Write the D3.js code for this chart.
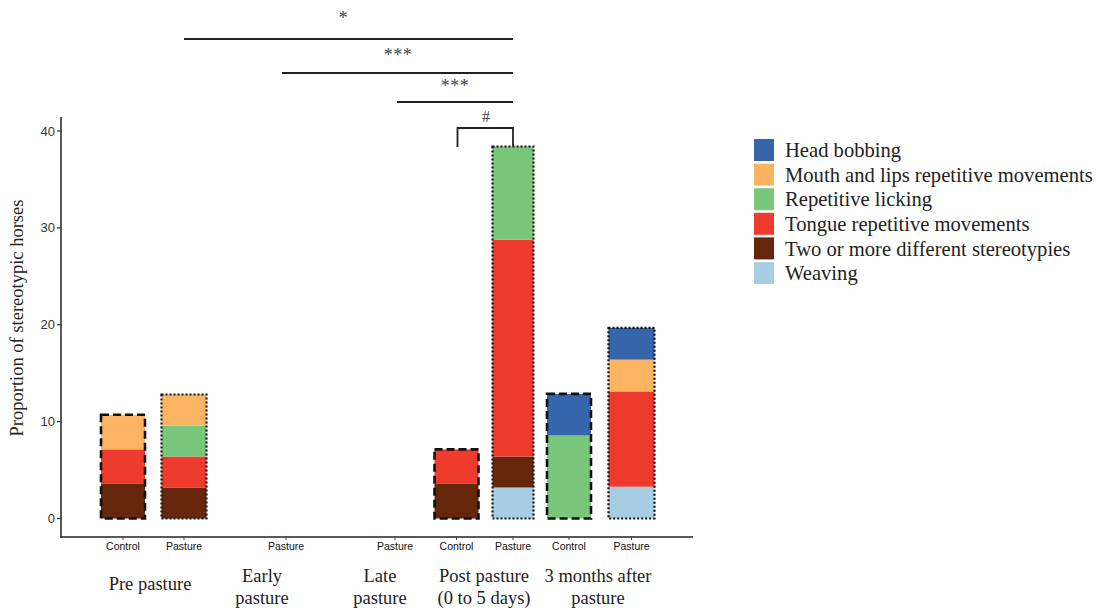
<!DOCTYPE html>
<html>
<head>
<meta charset="utf-8">
<script src="https://cdn.jsdelivr.net/npm/d3@7"></script>
<style>
  html, body { margin: 0; padding: 0; background: #fff; }
  svg { display: block; }
</style>
</head>
<body>
<svg id="chart" width="1101" height="610"></svg>
<script>
// ---------- DATA ----------
const barKeys = ["pre_c", "pre_p", "early_p", "late_p", "post_c", "post_p", "m3_c", "m3_p"];
const tickLabels = ["Control", "Pasture", "Pasture", "Pasture", "Control", "Pasture", "Control", "Pasture"];
const barType = ["control", "pasture", "pasture", "pasture", "control", "pasture", "control", "pasture"];
const groupLabels = [["Pre pasture"], ["Early", "pasture"], ["Late", "pasture"], ["Post pasture", "(0 to 5 days)"], ["3 months after", "pasture"]];

const seriesNames = ["Head bobbing", "Mouth and lips repetitive movements", "Repetitive licking",
  "Tongue repetitive movements", "Two or more different stereotypies", "Weaving"];
// values per bar (same order as barKeys)
const headBobbing = [0, 0, 0, 0, 0, 0, 4.29, 3.28];
const mouthLips   = [3.57, 3.2, 0, 0, 0, 0, 0, 3.28];
const licking     = [0, 3.2, 0, 0, 0, 9.6, 8.57, 0];
const tongue      = [3.57, 3.2, 0, 0, 3.57, 22.4, 0, 9.84];
const twoOrMore   = [3.57, 3.2, 0, 0, 3.57, 3.2, 0, 0];
const weaving     = [0, 0, 0, 0, 0, 3.2, 0, 3.28];
const yTicks = [0, 10, 20, 30, 40];

const sigLabels = ["*", "***", "***", "#"];

// ---------- LAYOUT ----------
const svg = d3.select("#chart");
const colors = ["#3566ab", "#fbb462", "#79c77b", "#ee3b2d", "#66260b", "#a7cde3"];
const seriesData = [headBobbing, mouthLips, licking, tongue, twoOrMore, weaving];

const y = d3.scaleLinear().domain([0, 40]).range([518.5, 131]);
const x = d3.scaleOrdinal().domain(barKeys).range([123, 184, 286, 395, 456.5, 513, 569, 631.5]);
const barW = d3.scaleOrdinal().domain(barKeys).range([44, 45, 44, 44, 44, 41, 44, 46]);

// stacked data: bottom = Weaving, top = Head bobbing
const rows = barKeys.map((k, i) => {
  const r = { key: k };
  seriesNames.forEach((s, j) => r[s] = seriesData[j][i]);
  return r;
});
const stackOrder = seriesNames.slice().reverse();
const stack = d3.stack().keys(stackOrder)(rows);
const color = d3.scaleOrdinal().domain(seriesNames).range(colors);

const g = svg.append("g");
stack.forEach(layer => {
  g.selectAll(null).data(layer.filter(d => d[1] - d[0] > 0)).enter().append("rect")
    .attr("x", d => x(d.data.key) - barW(d.data.key) / 2)
    .attr("width", d => barW(d.data.key))
    .attr("y", d => y(d[1]))
    .attr("height", d => y(d[0]) - y(d[1]))
    .attr("fill", color(layer.key));
});

// outlines
const totals = rows.map(r => d3.sum(seriesNames, s => r[s]));
barKeys.forEach((k, i) => {
  if (totals[i] <= 0) return;
  const ctl = barType[i] === "control";
  g.append("rect")
    .attr("x", x(k) - barW(k) / 2)
    .attr("width", barW(k))
    .attr("y", y(totals[i]))
    .attr("height", y(0) - y(totals[i]))
    .attr("fill", "none")
    .attr("stroke", "#111")
    .attr("stroke-width", ctl ? 2.6 : 2.2)
    .attr("stroke-dasharray", ctl ? "8,4" : "2,2");
});

// y axis
const axisX = 61;
svg.append("line").attr("x1", axisX).attr("x2", axisX).attr("y1", 117).attr("y2", 538)
  .attr("stroke", "#222").attr("stroke-width", 1.5);
yTicks.forEach(t => {
  svg.append("line").attr("x1", axisX - 4).attr("x2", axisX).attr("y1", y(t)).attr("y2", y(t))
    .attr("stroke", "#333").attr("stroke-width", 1.2);
  svg.append("text").attr("x", axisX - 6).attr("y", y(t)).attr("dy", "0.35em")
    .attr("text-anchor", "end").attr("font-family", "Liberation Sans, Arial, sans-serif")
    .attr("font-size", 13).attr("fill", "#333").text(t);
});
svg.append("text")
  .attr("transform", "translate(23,318) rotate(-90)")
  .attr("text-anchor", "middle")
  .attr("font-family", "Liberation Serif, Times New Roman, serif")
  .attr("font-size", 18.5).attr("fill", "#222")
  .text("Proportion of stereotypic horses");

// x axis
svg.append("line").attr("x1", axisX).attr("x2", 693).attr("y1", 537).attr("y2", 537)
  .attr("stroke", "#222").attr("stroke-width", 1.5);
barKeys.forEach((k, i) => {
  svg.append("line").attr("x1", x(k)).attr("x2", x(k)).attr("y1", 537).attr("y2", 540)
    .attr("stroke", "#444").attr("stroke-width", 1);
  svg.append("text").attr("x", x(k)).attr("y", 550).attr("text-anchor", "middle")
    .attr("font-family", "Liberation Sans, Arial, sans-serif").attr("font-size", 10.5)
    .attr("fill", "#111").text(tickLabels[i]);
});

const groupX = [150, 262, 380, 484, 598];
const groupY = [[590], [582, 604], [582, 604], [582, 604], [582, 604]];
groupLabels.forEach((lines, i) => {
  lines.forEach((ln, j) => {
    svg.append("text").attr("x", groupX[i]).attr("y", groupY[i][j]).attr("text-anchor", "middle")
      .attr("font-family", "Liberation Serif, Times New Roman, serif").attr("font-size", 18.5)
      .attr("fill", "#222").text(ln);
  });
});

// significance annotations
const sig = svg.append("g").attr("stroke", "#222").attr("stroke-width", 1.8).attr("fill", "none");
const sigLines = [[x("pre_p"), x("post_p"), 39], [282, x("post_p"), 73], [397, x("post_p"), 102]];
sigLines.forEach(l => sig.append("line").attr("x1", l[0]).attr("x2", l[1]).attr("y1", l[2]).attr("y2", l[2]));
sig.append("path").attr("d", `M${x("post_c") + 1},147 V128 H${x("post_p")} V${y(totals[5])}`);

const sigPos = [[343, 24], [398, 61], [455, 92], [486, 122]];
sigLabels.forEach((s, i) => {
  svg.append("text").attr("x", sigPos[i][0]).attr("y", sigPos[i][1]).attr("text-anchor", "middle")
    .attr("font-family", "Liberation Serif, Times New Roman, serif")
    .attr("font-size", i === 3 ? 16 : 18).attr("fill", "#444")
    .attr("letter-spacing", s === "***" ? 0.5 : 0).text(s);
});

// legend
const leg = svg.append("g").attr("transform", "translate(754,139)");
seriesNames.forEach((s, i) => {
  const row = leg.append("g").attr("transform", `translate(0,${i * 24.6})`);
  row.append("rect").attr("width", 20).attr("height", 22).attr("fill", color(s));
  row.append("text").attr("x", 31).attr("y", 11).attr("dy", "0.35em")
    .attr("font-family", "Liberation Serif, Times New Roman, serif").attr("font-size", 20.6)
    .attr("fill", "#222").text(s);
});
</script>
</body>
</html>
